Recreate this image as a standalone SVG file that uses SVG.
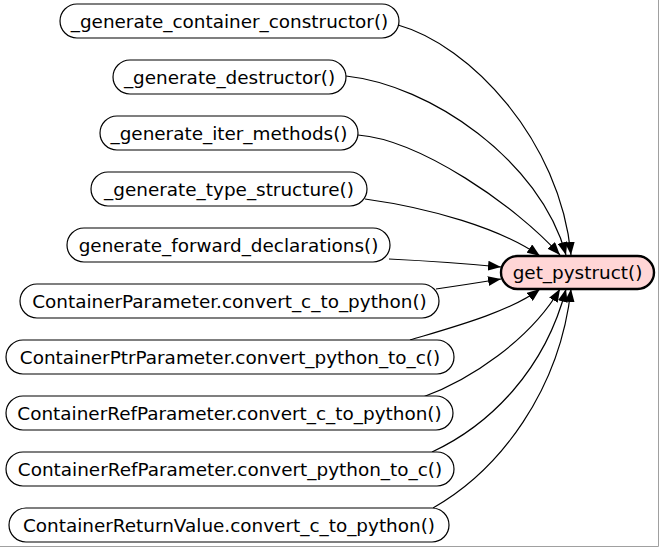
<svg xmlns="http://www.w3.org/2000/svg" width="659" height="547" viewBox="0 0 659 547">
<style>
.n rect{fill:#fff;stroke:#000;stroke-width:1.2}
.t{font-family:"DejaVu Sans",sans-serif;font-size:18.4px;text-anchor:middle;fill:#000}
#edges path{fill:none;stroke:#000;stroke-width:1.2}
</style>
<defs>
<marker id="ah" markerUnits="userSpaceOnUse" viewBox="0 0 13 10" refX="13" refY="5" markerWidth="13" markerHeight="10" orient="auto">
<path d="M0,0 L13,5 L0,10 Z" fill="#000"/>
</marker>
</defs>
<rect x="0" y="0" width="659" height="547" fill="#fff"/>
<g id="edges">
<path d="M398,25 C470,45 560,140 571,255" marker-end="url(#ah)"/>
<path d="M346,76 C430,85 540,160 566,255" marker-end="url(#ah)"/>
<path d="M358,135 C420,140 515,205 560,255" marker-end="url(#ah)"/>
<path d="M365,199 C430,208 500,228 540,256" marker-end="url(#ah)"/>
<path d="M389,259 Q450,262 501,267" marker-end="url(#ah)"/>
<path d="M436,289 Q470,284 501,279" marker-end="url(#ah)"/>
<path d="M410,340 C450,328 510,312 540,289" marker-end="url(#ah)"/>
<path d="M423,397 C470,380 530,340 560,289" marker-end="url(#ah)"/>
<path d="M432,452 C490,425 545,370 566,289" marker-end="url(#ah)"/>
<path d="M433,508 C500,470 560,390 571,289" marker-end="url(#ah)"/>
</g>
<g id="n1" class="n"><rect x="60" y="4" width="339" height="34" rx="17"/><text class="t" x="229.5" y="27.7">_generate_container_constructor()</text></g>
<g id="n2" class="n"><rect x="113" y="60" width="233" height="34" rx="17"/><text class="t" x="229.5" y="83.7">_generate_destructor()</text></g>
<g id="n3" class="n"><rect x="100" y="116" width="258" height="34" rx="17"/><text class="t" x="229" y="139.7">_generate_iter_methods()</text></g>
<g id="n4" class="n"><rect x="91" y="172" width="276" height="34" rx="17"/><text class="t" x="229" y="195.7">_generate_type_structure()</text></g>
<g id="n5" class="n"><rect x="67" y="228" width="323" height="34" rx="17"/><text class="t" x="228.5" y="251.7">generate_forward_declarations()</text></g>
<g id="n6" class="n"><rect x="20" y="284" width="419" height="34" rx="17"/><text class="t" x="229.5" y="307.7">ContainerParameter.convert_c_to_python()</text></g>
<g id="n7" class="n"><rect x="6" y="340" width="448" height="34" rx="17"/><text class="t" x="230" y="363.7">ContainerPtrParameter.convert_python_to_c()</text></g>
<g id="n8" class="n"><rect x="6" y="396" width="447" height="34" rx="17"/><text class="t" x="229.5" y="419.7">ContainerRefParameter.convert_c_to_python()</text></g>
<g id="n9" class="n"><rect x="6" y="452" width="448" height="34" rx="17"/><text class="t" x="230" y="475.7">ContainerRefParameter.convert_python_to_c()</text></g>
<g id="n10" class="n"><rect x="9" y="508" width="440" height="34" rx="17"/><text class="t" x="229" y="531.7">ContainerReturnValue.convert_c_to_python()</text></g>
<g id="target"><rect x="501" y="256" width="153" height="33" rx="16.5" fill="#ffd6d6" stroke="#000" stroke-width="2.4"/><text class="t" x="577.5" y="279.2">get_pystruct()</text></g>
<path d="M658.5,0 V546.5 H0" fill="none" stroke="#a0a0a0" stroke-width="1"/>
</svg>
